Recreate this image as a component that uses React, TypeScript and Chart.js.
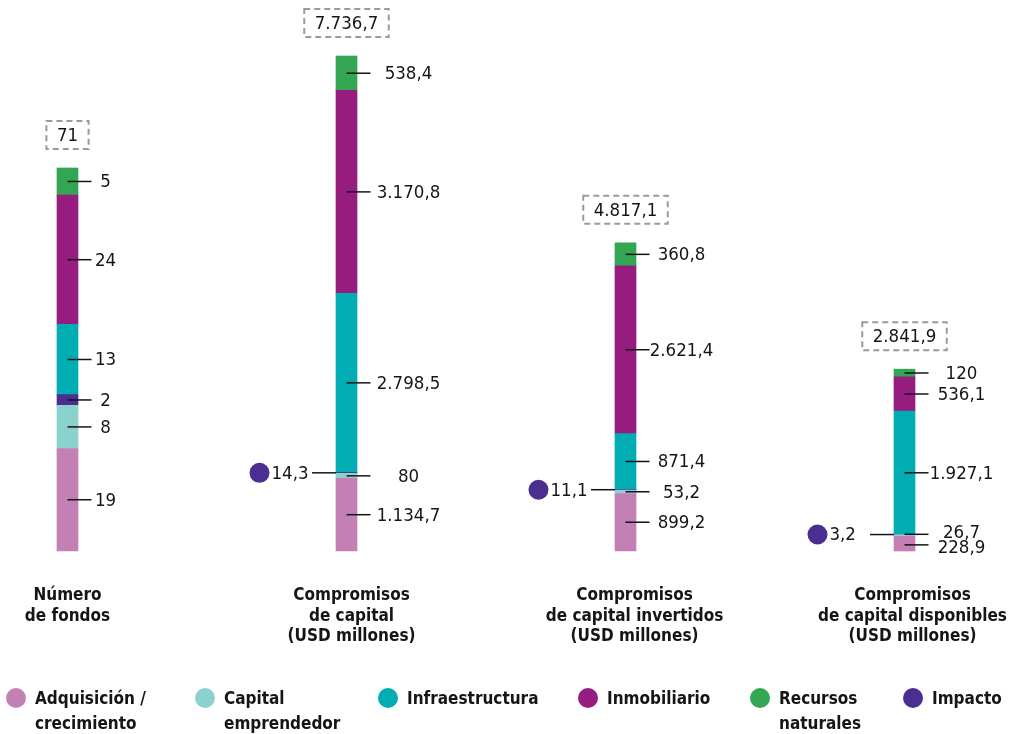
import React, { useEffect, useRef } from "react";
import { Chart, registerables } from "chart.js";

Chart.register(...registerables);

// ---------- DATA ----------
const categories: string[][] = [
  ["Número", "de fondos"],
  ["Compromisos", "de capital", "(USD millones)"],
  ["Compromisos", "de capital invertidos", "(USD millones)"],
  ["Compromisos", "de capital disponibles", "(USD millones)"],
];

const adquisicion = [19, 1134.7, 899.2, 228.9];
const capitalEmprendedor = [8, 80, 53.2, 26.7];
const impacto = [2, 14.3, 11.1, 3.2];
const infraestructura = [13, 2798.5, 871.4, 1927.1];
const inmobiliario = [24, 3170.8, 2621.4, 536.1];
const recursosNaturales = [5, 538.4, 360.8, 120];
const totals = [71, 7736.7, 4817.1, 2841.9];

// stacking order (bottom to top)
const SERIES = [
  { key: "adq", label: ["Adquisición /", "crecimiento"], data: adquisicion, color: "#C47FB5" },
  { key: "cap", label: ["Capital", "emprendedor"], data: capitalEmprendedor, color: "#8BD2CF" },
  { key: "imp", label: ["Impacto"], data: impacto, color: "#4C2E91" },
  { key: "inf", label: ["Infraestructura"], data: infraestructura, color: "#00ADB2" },
  { key: "inm", label: ["Inmobiliario"], data: inmobiliario, color: "#961C80" },
  { key: "rec", label: ["Recursos", "naturales"], data: recursosNaturales, color: "#33A653" },
];
const LEGEND_ORDER = ["adq", "cap", "inf", "inm", "rec", "imp"];

// ---------- STYLE ----------
const W = 1015;
const H = 734;
const VALUE_FONT = "18.5px 'DejaVu Sans Condensed', 'DejaVu Sans', sans-serif";
const BOLD_FONT = "bold 17px 'DejaVu Sans Condensed', 'DejaVu Sans', sans-serif";
const TEXT_COLOR = "#151515";
const LABEL_DX = [38, 62, 56, 57];
const CAT_DX = [0, 5, 9, 8];
const LEGEND_X = [16, 205, 388, 588, 760, 913];

function fmt(v: number): string {
  const isInt = Number.isInteger(v);
  const s = isInt ? String(v) : v.toFixed(1);
  const [ip, dp] = s.split(".");
  const withDots = ip.replace(/\B(?=(\d{3})+(?!\d))/g, ".");
  return dp ? `${withDots},${dp}` : withDots;
}

const annotatePlugin = {
  id: "annotate",
  afterDatasetsDraw(chart: any) {
    const ctx: CanvasRenderingContext2D = chart.ctx;
    const area = chart.chartArea;
    ctx.save();
    for (let i = 0; i < categories.length; i++) {
      const segs = SERIES.map((s, si) => {
        const dsIndex = si * 2 + (i === 0 ? 0 : 1);
        const el = chart.getDatasetMeta(dsIndex).data[i];
        return {
          s,
          x: el.x as number,
          top: el.y as number,
          base: el.base as number,
          half: (el.width as number) / 2,
          mid: ((el.y as number) + (el.base as number)) / 2,
          value: s.data[i],
          ty: ((el.y as number) + (el.base as number)) / 2,
        };
      });
      const cx = segs[0].x;
      const half = segs[0].half;

      // right-side labels
      const right = segs.filter((g) => i === 0 || g.s.key !== "imp");
      right.sort((a, b) => b.mid - a.mid);
      for (let k = 1; k < right.length; k++) {
        const prev = right[k - 1];
        const cur = right[k];
        if (prev.ty - cur.ty < 15) {
          const m = (prev.ty + cur.ty) / 2;
          prev.ty = m + 7.5;
          cur.ty = m - 7.5;
        }
      }
      ctx.font = VALUE_FONT;
      ctx.fillStyle = TEXT_COLOR;
      ctx.strokeStyle = TEXT_COLOR;
      ctx.lineWidth = 1.5;
      ctx.textAlign = "center";
      ctx.textBaseline = "middle";
      right.forEach((g) => {
        const ly = g.mid + (g.ty - g.mid) * 0.35;
        ctx.beginPath();
        ctx.moveTo(cx, ly);
        ctx.lineTo(cx + 24, ly);
        ctx.stroke();
        ctx.fillText(fmt(g.value), cx + LABEL_DX[i], g.ty + 1);
      });

      // impacto marker on the left for money bars
      if (i > 0) {
        const g = segs.find((q) => q.s.key === "imp")!;
        const dotX = cx - 87;
        ctx.beginPath();
        ctx.arc(dotX, g.mid, 10, 0, Math.PI * 2);
        ctx.fillStyle = g.s.color;
        ctx.fill();
        ctx.fillStyle = TEXT_COLOR;
        ctx.textAlign = "left";
        ctx.fillText(fmt(g.value), dotX + 12, g.mid + 1);
        ctx.beginPath();
        ctx.moveTo(cx - half - 24, g.mid);
        ctx.lineTo(cx - half, g.mid);
        ctx.stroke();
      }

      // total box
      const topY = Math.min(...segs.map((g) => g.top));
      const txt = fmt(totals[i]);
      ctx.font = VALUE_FONT;
      const tw = ctx.measureText(txt).width;
      const bw = tw + 21;
      const bh = 28;
      const by = topY - 19 - bh;
      ctx.save();
      ctx.setLineDash([6, 4]);
      ctx.strokeStyle = "#9a9a9a";
      ctx.lineWidth = 2;
      ctx.strokeRect(cx - bw / 2, by, bw, bh);
      ctx.restore();
      ctx.fillStyle = TEXT_COLOR;
      ctx.textAlign = "center";
      ctx.textBaseline = "middle";
      ctx.fillText(txt, cx, by + bh / 2 + 1);

      // category label
      ctx.font = BOLD_FONT;
      ctx.textBaseline = "alphabetic";
      categories[i].forEach((line, j) => {
        ctx.fillText(line, cx + CAT_DX[i], area.bottom + 49 + j * 20.5);
      });
    }

    // legend
    ctx.font = BOLD_FONT;
    ctx.textAlign = "left";
    ctx.textBaseline = "alphabetic";
    LEGEND_ORDER.forEach((key, n) => {
      const s = SERIES.find((q) => q.key === key)!;
      const x = LEGEND_X[n];
      ctx.beginPath();
      ctx.arc(x, 698, 10, 0, Math.PI * 2);
      ctx.fillStyle = s.color;
      ctx.fill();
      ctx.fillStyle = TEXT_COLOR;
      s.label.forEach((line, j) => {
        ctx.fillText(line, x + 19, 704 + j * 25);
      });
    });
    ctx.restore();
  },
};

export default function App() {
  const ref = useRef<HTMLCanvasElement | null>(null);
  useEffect(() => {
    if (!ref.current) return;
    const datasets: any[] = [];
    SERIES.forEach((s) => {
      datasets.push({
        label: s.label.join(" "),
        data: s.data.map((v, i) => (i === 0 ? v : null)),
        yAxisID: "yf",
        stack: "a",
        backgroundColor: s.color,
        borderWidth: 0,
        barThickness: 21,
        clip: false,
      });
      datasets.push({
        label: s.label.join(" "),
        data: s.data.map((v, i) => (i === 0 ? null : v)),
        yAxisID: "y",
        stack: "a",
        backgroundColor: s.color,
        borderWidth: 0,
        barThickness: 21,
        clip: false,
      });
    });
    const chart = new Chart(ref.current, {
      type: "bar",
      data: { labels: categories.map((c) => c.join(" ")), datasets },
      options: {
        animation: false,
        responsive: true,
        maintainAspectRatio: false,
        layout: { padding: { left: 67.5, right: 110.5, top: 0, bottom: 183 } },
        plugins: { legend: { display: false }, tooltip: { enabled: false } },
        scales: {
          x: { display: false, stacked: true, offset: false, grid: { display: false } },
          y: { display: false, stacked: true, min: 0, max: 8612 },
          yf: { display: false, stacked: true, min: 0, max: 102.14, position: "right" },
        },
      },
      plugins: [annotatePlugin],
    });
    return () => chart.destroy();
  }, []);
  return (
    <div style={{ position: "absolute", left: 0, top: 0, width: W, height: H, background: "#fff" }}>
      <canvas ref={ref} />
    </div>
  );
}
